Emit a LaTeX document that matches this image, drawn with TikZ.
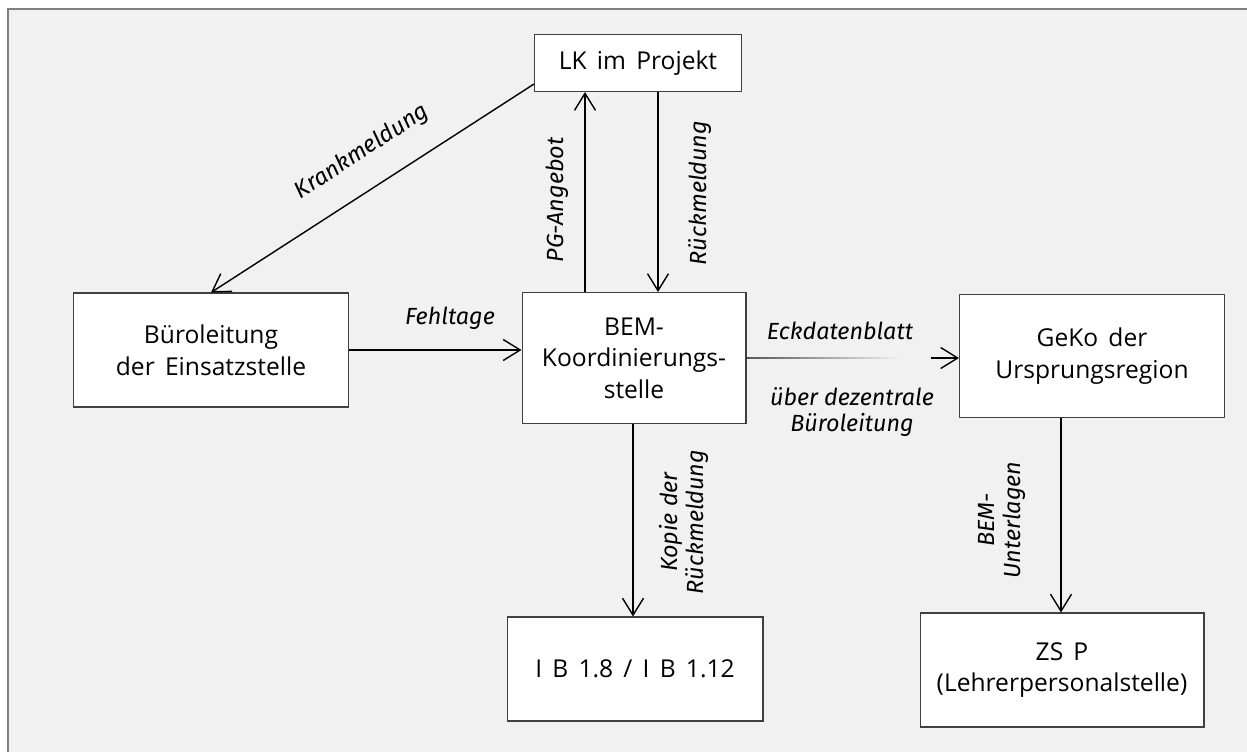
\documentclass[tikz,border=0pt]{standalone}
\usepackage{fontspec}
\setmainfont{Open Sans}[WordSpace=1.6]
\newfontfamily\lblfont{Fira Sans}
\usetikzlibrary{calc}
\usetikzlibrary{arrows.meta}
\usetikzlibrary{fadings}
\definecolor{bgfill}{HTML}{F1F1F1}
\definecolor{framegray}{HTML}{7F7F7F}
\definecolor{boxgray}{HTML}{404040}

\begin{document}
\begin{tikzpicture}[x=0.02cm, y=-0.02cm,
    box/.style={draw=boxgray, line width=0.6pt, fill=white, align=center,
        inner sep=0pt, font=\fontsize{14}{18}\selectfont},
    flow/.style={line width=0.8pt,
        -{Straight Barb[length=3.4mm, width=4.2mm, line width=0.8pt]}},
    lbl/.style={font=\lblfont\itshape\fontsize{13.3}{14.5}\selectfont,
        align=center, inner sep=0pt}]

    % Page and grey frame (cut off at right and bottom)
    \useasboundingbox (0,0) rectangle (1247,751);
    \clip (0,0) rectangle (1247,751);
    \fill[white] (0,0) rectangle (1247,751);
    \draw[framegray, line width=1.2pt, fill=bgfill] (8,9) rectangle (1280,790);

    % Boxes
    \node[box, minimum width=4.14cm, minimum height=1.14cm] (lk) at (638,63) {LK im Projekt};
    \node[box, minimum width=5.5cm, minimum height=2.28cm] (buero) at (211,350) {Büroleitung\\der Einsatzstelle};
    \node[box, minimum width=4.48cm, minimum height=2.62cm] (bem) at (634,358) {BEM-\\Koordinierungs-\\stelle};
    \node[box, minimum width=5.3cm, minimum height=2.46cm] (geko) at (1092,356) {GeKo der\\Ursprungsregion};
    \node[box, minimum width=5.12cm, minimum height=2.08cm] (ib) at (635,669) {I B 1.8 / I B 1.12};
    \node[box, minimum width=5.68cm, minimum height=2.28cm] (zsp) at (1062,670) {ZS P\\(Lehrerpersonalstelle)};

    % x positions of the vertical lines
    \coordinate (pg) at (585,0);   % PG-Angebot
    \coordinate (rm) at (658,0);   % Rueckmeldung
    \coordinate (ko) at (633,0);   % Kopie
    \coordinate (bu) at (1061,0);  % BEM-Unterlagen

    % Arrows
    \draw[flow] ($(lk.south west)+(0,-8)$) -- (buero.north);
    \draw[flow] (bem.north -| pg) -- (lk.south -| pg);
    \draw[flow] (lk.south -| rm) -- (bem.north -| rm);
    \draw[flow] (buero.east) -- (buero.east -| bem.west);
    \draw[flow] (bem.south -| ko) -- (ib.north -| ko);
    \draw[flow] (geko.south -| bu) -- (zsp.north -| bu);

    % fading line to the GeKo
    \draw[line width=0.8pt, path fading=east] (bem.east) -- ($(bem.east)!0.72!(bem.east -| geko.west)$);
    \draw[flow] ($(bem.east -| geko.west)+(-28,0)$) -- (bem.east -| geko.west);

    % Labels
    \node[lbl, rotate=33] (lkrank) at (362,152) {Krankmeldung};
    \node[lbl, rotate=90] (lpg) at (557,200) {PG-Angebot};
    \node[lbl, rotate=90] (lrueck) at (700,193) {Rückmeldung};
    \node[lbl] (lfehl) at (450,318) {Fehltage};
    \node[lbl] (leck) at (840,331) {Eckdatenblatt};
    \node[lbl] (lueber) at (852,412) {über dezentrale\\Büroleitung};
    \node[lbl, rotate=90] (lkopie) at (684,522) {Kopie der\\Rückmeldung};
    \node[lbl, rotate=90] (lunter) at (1002,520) {BEM-\\Unterlagen};
\end{tikzpicture}
\end{document}
